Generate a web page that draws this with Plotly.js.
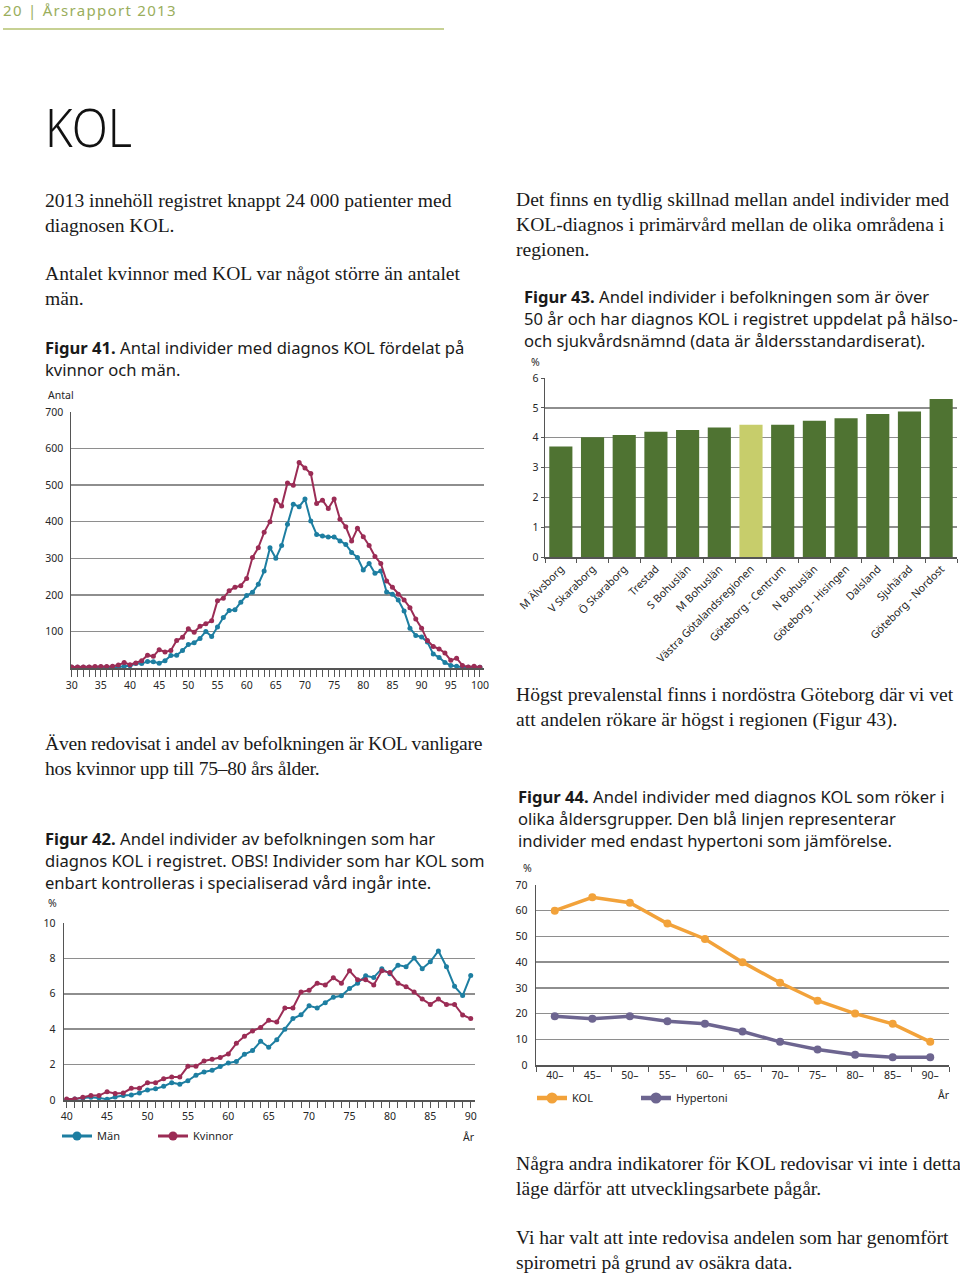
<!DOCTYPE html>
<html>
<head>
<meta charset="utf-8">
<script src="https://cdn.plot.ly/plotly-3.0.1.min.js"></script>
<style>
  html, body { margin:0; padding:0; background:#fff; }
  body { width:960px; height:1276px; position:relative; overflow:hidden; }
  .t { position:absolute; white-space:nowrap; color:#1a1a1a; }
  .serif { font-family:"Liberation Serif", "DejaVu Serif", serif; font-size:19.6px; line-height:25px; }
  .cap { font-family:"Noto Sans", "Open Sans", sans-serif; font-size:16.6px; line-height:22px; }
  .cap b { font-weight:700; }
  .plot { position:absolute; }
</style>
</head>
<body>
<div class="t" style="left:3px; top:3px; font-family:'Noto Sans',sans-serif; font-size:15px; line-height:15px; letter-spacing:1.3px; color:#9aae5c;">20 | Årsrapport 2013</div>
<div style="position:absolute; left:3px; top:28px; width:441px; height:1.5px; background:#c7d193;"></div>
<div class="t" style="left:45px; top:99px; font-family:'Noto Sans',sans-serif; font-weight:300; font-size:54px; line-height:54px; color:#111; transform:scaleX(0.87); transform-origin:left top;">KOL</div>

<div class="t serif" style="left:45px; top:188px;">2013 innehöll registret knappt 24 000 patienter med<br>diagnosen KOL.</div>
<div class="t serif" style="left:45px; top:261px;">Antalet kvinnor med KOL var något större än antalet<br>män.</div>
<div class="t cap" style="left:45px; top:337px;"><b>Figur 41.</b> Antal individer med diagnos KOL fördelat på<br>kvinnor och män.</div>

<div class="t serif" style="left:45px; top:731px; letter-spacing:-0.25px;">Även redovisat i andel av befolkningen är KOL vanligare<br>hos kvinnor upp till 75–80 års ålder.</div>
<div class="t cap" style="left:45px; top:828px;"><b>Figur 42.</b> Andel individer av befolkningen som har<br>diagnos KOL i registret. OBS! Individer som har KOL som<br>enbart kontrolleras i specialiserad vård ingår inte.</div>

<div class="t serif" style="left:516px; top:187px;">Det finns en tydlig skillnad mellan andel individer med<br>KOL-diagnos i primärvård mellan de olika områdena i<br>regionen.</div>
<div class="t cap" style="left:524px; top:286px;"><b>Figur 43.</b> Andel individer i befolkningen som är över<br>50 år och har diagnos KOL i registret uppdelat på hälso-<br>och sjukvårdsnämnd (data är åldersstandardiserat).</div>

<div class="t serif" style="left:516px; top:682px;">Högst prevalenstal finns i nordöstra Göteborg där vi vet<br>att andelen rökare är högst i regionen (Figur 43).</div>
<div class="t cap" style="left:518px; top:786px;"><b>Figur 44.</b> Andel individer med diagnos KOL som röker i<br>olika åldersgrupper. Den blå linjen representerar<br>individer med endast hypertoni som jämförelse.</div>

<div class="t serif" style="left:516px; top:1151px;">Några andra indikatorer för KOL redovisar vi inte i detta<br>läge därför att utvecklingsarbete pågår.</div>
<div class="t serif" style="left:516px; top:1225px;">Vi har valt att inte redovisa andelen som har genomfört<br>spirometri på grund av osäkra data.</div>

<div id="f41" class="plot" style="left:0px; top:380px; width:500px; height:330px;"></div>
<div id="f42" class="plot" style="left:0px; top:890px; width:500px; height:260px;"></div>
<div id="f43" class="plot" style="left:510px; top:350px; width:450px; height:320px;"></div>
<div id="f44" class="plot" style="left:510px; top:860px; width:450px; height:250px;"></div>

<script>
// ---------- Figur 41 data ----------
var ages41 = [30,31,32,33,34,35,36,37,38,39,40,41,42,43,44,45,46,47,48,49,50,51,52,53,54,55,56,57,58,59,60,61,62,63,64,65,66,67,68,69,70,71,72,73,74,75,76,77,78,79,80,81,82,83,84,85,86,87,88,89,90,91,92,93,94,95,96,97,98,99,100];
var men41 = [2,2,2,2,2,3,3,3,3,5,6,12,12,18,17,13,20,34,35,48,64,69,81,100,86,112,138,157,159,180,198,207,229,265,329,300,335,393,448,441,462,402,365,361,358,358,347,338,316,302,268,286,259,265,208,202,186,156,109,89,85,71,38,29,15,7,5,2,2,2,2];
var women41 = [3,3,3,3,4,4,4,5,8,15,9,14,20,35,32,50,44,48,75,84,107,98,114,121,129,184,191,211,221,225,245,302,329,371,400,459,443,506,500,562,547,532,450,459,436,462,407,386,347,382,359,335,305,286,238,221,202,186,165,134,109,75,59,52,41,21,27,7,3,5,2];
var xticks41 = [30,35,40,45,50,55,60,65,70,75,80,85,90,95,100];
var yticks41 = [100,200,300,400,500,600,700];

// ---------- Figur 42 data ----------
var ages42 = [40,41,42,43,44,45,46,47,48,49,50,51,52,53,54,55,56,57,58,59,60,61,62,63,64,65,66,67,68,69,70,71,72,73,74,75,76,77,78,79,80,81,82,83,84,85,86,87,88,89,90];
var men42 = [0.02,0.05,0.1,0.15,0.12,0.04,0.17,0.26,0.28,0.4,0.57,0.64,0.77,0.98,0.89,1.09,1.4,1.58,1.68,1.89,2.09,2.17,2.58,2.79,3.32,2.98,3.4,4.0,4.6,4.81,5.32,5.2,5.5,5.81,5.89,6.3,6.6,7.02,6.92,7.42,7.13,7.62,7.53,8.02,7.42,7.81,8.42,7.53,6.42,5.9,7.04];
var women42 = [0.05,0.05,0.15,0.25,0.25,0.47,0.37,0.4,0.66,0.66,0.98,0.98,1.2,1.3,1.3,1.9,1.9,2.2,2.3,2.4,2.6,3.2,3.6,3.9,4.1,4.5,4.4,5.2,5.2,6.1,6.2,6.6,6.5,6.9,6.6,7.3,6.8,6.8,6.5,7.3,7.2,6.6,6.4,6.1,5.7,5.4,5.7,5.4,5.4,4.8,4.6];
var xticks42 = [40,45,50,55,60,65,70,75,80,85,90];
var yticks42 = [0,2,4,6,8,10];

// ---------- Figur 43 data ----------
var areas43 = ['M Älvsborg','V Skaraborg','Ö Skaraborg','Trestad','S Bohuslän','M Bohuslän','Västra Götalandsregionen','Göteborg - Centrum','N Bohuslän','Göteborg - Hisingen','Dalsland','Sjuhärad','Göteborg - Nordost'];
var values43 = [3.70,4.01,4.09,4.20,4.26,4.34,4.43,4.43,4.57,4.65,4.79,4.88,5.30];
var regionName43 = 'Västra Götalandsregionen';

// ---------- Figur 44 data ----------
var groups44 = ['40–','45–','50–','55–','60–','65–','70–','75–','80–','85–','90–'];
var kol44 = [60,65.2,63.1,55,49,40,32,25,20,16,9];
var hyp44 = [19,18,19,17,16,13,9,6,4,3,3];

// ---------- styles ----------
var FONT = 'Noto Sans, Open Sans, sans-serif';
var RED = '#9b2c55', BLUE = '#1d7ea1', GREEN = '#4f7332', LIGHT = '#c7cd6b', ORANGE = '#f2a23a', PURPLE = '#6d6590';
var GRID = '#8e8e8e', AXIS = '#555555', TXT = '#262626';
var cfg = {staticPlot:true, displayModeBar:false};
var tickfont = {family:FONT, size:10.5, color:TXT};
var legfont = {family:FONT, size:11, color:TXT};

function ann(text, x, y, xanchor, xshift, yshift) {
  return {text:text, xref:'paper', yref:'paper', x:x, y:y, xanchor:xanchor, yanchor:'middle',
          xshift:xshift, yshift:yshift, showarrow:false, font:{family:FONT, size:10.5, color:TXT}};
}
function leg(x, y) {
  return {xref:'container', yref:'container', x:x, y:y, xanchor:'left', yanchor:'middle',
          bgcolor:'rgba(0,0,0,0)', borderwidth:0, font:legfont};
}
// legend-only key entries (no data points), styled like the printed key
function key(name, color, lw, ms, legendId) {
  return {x:[null], y:[null], type:'scatter', mode:'lines+markers', name:name, legend:legendId,
          line:{color:color, width:lw}, marker:{color:color, size:ms}, hoverinfo:'skip'};
}

// Figur 41
Plotly.newPlot('f41', [
  {x:ages41, y:men41, type:'scatter', mode:'lines+markers', name:'Män',
   line:{color:BLUE, width:2}, marker:{color:BLUE, size:5}},
  {x:ages41, y:women41, type:'scatter', mode:'lines+markers', name:'Kvinnor',
   line:{color:RED, width:2}, marker:{color:RED, size:5}}
], {
  width:500, height:330, margin:{l:71, r:16, t:31.7, b:41.7, autoexpand:false},
  paper_bgcolor:'rgba(0,0,0,0)', plot_bgcolor:'rgba(0,0,0,0)', showlegend:false,
  xaxis:{range:[29.88,100.7], tickvals:xticks41, ticks:'outside', ticklen:7, tickwidth:1, tickcolor:AXIS,
         showline:true, linecolor:AXIS, linewidth:1.5, showgrid:false, zeroline:false, tickfont:tickfont,
         minor:{dtick:1, tick0:30, ticks:'outside', ticklen:7, tickwidth:1, tickcolor:AXIS, showgrid:false}},
  yaxis:{range:[0,700], tickvals:yticks41, showgrid:true, gridcolor:GRID, gridwidth:1.5, showline:true,
         linecolor:AXIS, linewidth:1.5, zeroline:false, ticks:'', tickfont:tickfont, ticklabelstandoff:4},
  annotations:[ann('Antal', 0, 1, 'left', -25, 16.7)]
}, cfg);

// Figur 42
Plotly.newPlot('f42', [
  {x:ages42, y:men42, type:'scatter', mode:'lines+markers', name:'Män', showlegend:false,
   line:{color:BLUE, width:2}, marker:{color:BLUE, size:5}},
  {x:ages42, y:women42, type:'scatter', mode:'lines+markers', name:'Kvinnor', showlegend:false,
   line:{color:RED, width:2}, marker:{color:RED, size:5}},
  key('Män', BLUE, 3, 9, 'legend'),
  key('Kvinnor', RED, 3, 9, 'legend2')
], {
  width:500, height:260, margin:{l:64, r:25, t:33.3, b:50, autoexpand:false},
  paper_bgcolor:'rgba(0,0,0,0)', plot_bgcolor:'rgba(0,0,0,0)', showlegend:true,
  legend:leg(57/500, 14/260),
  legend2:leg(153/500, 14/260),
  xaxis:{range:[39.67,90.53], tickvals:xticks42, ticks:'outside', ticklen:6, tickwidth:1, tickcolor:AXIS,
         showline:true, linecolor:AXIS, linewidth:1.5, showgrid:false, zeroline:false, tickfont:tickfont,
         minor:{dtick:1, tick0:40, ticks:'outside', ticklen:6, tickwidth:1, tickcolor:AXIS, showgrid:false}},
  yaxis:{range:[0,10], tickvals:yticks42, showgrid:true, gridcolor:GRID, gridwidth:1.5, showline:true,
         linecolor:AXIS, linewidth:1.5, zeroline:false, ticks:'', tickfont:tickfont, ticklabelstandoff:5},
  annotations:[ann('%', 0, 1, 'left', -18, 20), ann('År', 1, 0, 'right', 2, -37)]
}, cfg);

// Figur 43
Plotly.newPlot('f43', [
  {x:areas43, y:values43, type:'bar',
   marker:{color:areas43.map(function(a){ return a === regionName43 ? LIGHT : GREEN; })}}
], {
  width:450, height:320, margin:{l:35, r:3.3, t:28.3, b:113.3, autoexpand:false},
  paper_bgcolor:'rgba(0,0,0,0)', plot_bgcolor:'rgba(0,0,0,0)', showlegend:false, bargap:0.27,
  xaxis:{type:'category', tickangle:-45, ticks:'outside', tickson:'boundaries', ticklen:4, tickcolor:AXIS,
         showline:true, linecolor:AXIS, linewidth:1.5, showgrid:false, tickfont:{family:FONT, size:10.8, color:TXT}},
  yaxis:{range:[0,6], dtick:1, showgrid:true, gridcolor:GRID, gridwidth:1.5, showline:true, linecolor:AXIS,
         linewidth:1.5, zeroline:false, ticks:'outside', ticklen:3, tickcolor:AXIS, tickfont:tickfont},
  annotations:[ann('%', 0, 1, 'left', -16, 16)]
}, cfg);

// Figur 44
Plotly.newPlot('f44', [
  {x:groups44, y:kol44, type:'scatter', mode:'lines+markers', name:'KOL', showlegend:false,
   line:{color:ORANGE, width:3.5}, marker:{color:ORANGE, size:8}},
  {x:groups44, y:hyp44, type:'scatter', mode:'lines+markers', name:'Hypertoni', showlegend:false,
   line:{color:PURPLE, width:3.5}, marker:{color:PURPLE, size:8}},
  key('KOL', ORANGE, 4.5, 11, 'legend'),
  key('Hypertoni', PURPLE, 4.5, 11, 'legend2')
], {
  width:450, height:250, margin:{l:26, r:11, t:25, b:45.3, autoexpand:false},
  paper_bgcolor:'rgba(0,0,0,0)', plot_bgcolor:'rgba(0,0,0,0)', showlegend:true,
  legend:leg(22/450, 12/250),
  legend2:leg(126/450, 12/250),
  xaxis:{type:'category', range:[-0.5,10.5], tickangle:0, ticks:'outside', tickson:'boundaries', ticklen:5, tickcolor:AXIS,
         showline:true, linecolor:AXIS, linewidth:1.5, showgrid:false, tickfont:tickfont},
  yaxis:{range:[0,70], dtick:10, showgrid:true, gridcolor:GRID, gridwidth:1.5, showline:true, linecolor:AXIS,
         linewidth:1.5, zeroline:false, ticks:'', tickfont:tickfont, ticklabelstandoff:5},
  annotations:[ann('%', 0, 1, 'left', -15, 17), ann('År', 1, 0, 'right', 3, -30)]
}, cfg);
</script>
</body>
</html>
